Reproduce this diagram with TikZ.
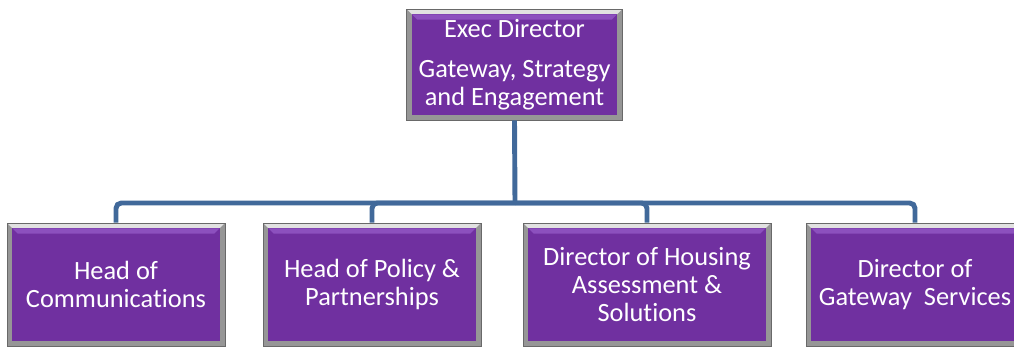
\documentclass[tikz,border=0pt]{standalone}
\usepackage{fontspec}
\setmainfont[Ligatures={NoCommon,NoRare,NoDiscretionary,NoContextual}]{Carlito}
\definecolor{rolepurple}{RGB}{112,48,160}
\definecolor{purplelight}{RGB}{140,80,190}
\definecolor{framegray}{RGB}{150,150,150}
\definecolor{framelight}{RGB}{225,225,225}
\definecolor{linkblue}{RGB}{65,105,154}
\tikzset{
  rolebox/.style={draw=framegray!70!black, line width=0.4pt, text=white, align=center,
    font=\fontsize{15}{16.2}\selectfont, inner sep=0pt,
    path picture={
      \fill[framegray] (path picture bounding box.south west) rectangle (path picture bounding box.north east);
      \fill[framelight] (path picture bounding box.north west) -- (path picture bounding box.north east)
        -- ([shift={(-3pt,-3pt)}]path picture bounding box.north east)
        -- ([shift={(3pt,-3pt)}]path picture bounding box.north west) -- cycle;
      \fill[rolepurple] ([shift={(3pt,3pt)}]path picture bounding box.south west)
        rectangle ([shift={(-3pt,-3pt)}]path picture bounding box.north east);
      \fill[purplelight] ([shift={(3pt,-3pt)}]path picture bounding box.north west)
        -- ([shift={(-3pt,-3pt)}]path picture bounding box.north east)
        -- ([shift={(-6pt,-6pt)}]path picture bounding box.north east)
        -- ([shift={(6pt,-6pt)}]path picture bounding box.north west) -- cycle;
    }},
  link/.style={draw=linkblue, line width=2.8pt, rounded corners=3pt}
}
\begin{document}
\begin{tikzpicture}[x=0.02cm, y=-0.02cm]
\useasboundingbox (0,0) rectangle (1014,347);
% top of the chart
\node[rolebox, minimum width=4.32cm, minimum height=2.22cm] (exec) at (514.5,64.5)
  {Exec Director\\[6.5pt] Gateway, Strategy\\ and Engagement};
% second row
\node[rolebox, minimum width=4.36cm, minimum height=2.46cm] (comms) at (116,284.5)
  {Head of\\ Communications};
\node[rolebox, minimum width=4.36cm, minimum height=2.46cm] (policy) at (372,284.5)
  {Head of Policy \&\\ Partnerships};
\node[rolebox, minimum width=4.96cm, minimum height=2.46cm] (housing) at (647,284.5)
  {Director of Housing\\ Assessment \&\\ Solutions};
\node[rolebox, minimum width=4.36cm, minimum height=2.46cm] (gateway) at (915,284.5)
  {Director of\\ Gateway~~Services};
% connectors
\coordinate (bar) at (515,203);
\draw[link] (exec.south) -- (bar);
\draw[link] (comms.north) |- (bar);
\draw[link] (policy.north) |- (bar);
\draw[link] (housing.north) |- (bar);
\draw[link] (gateway.north) |- (bar);
\end{tikzpicture}
\end{document}
